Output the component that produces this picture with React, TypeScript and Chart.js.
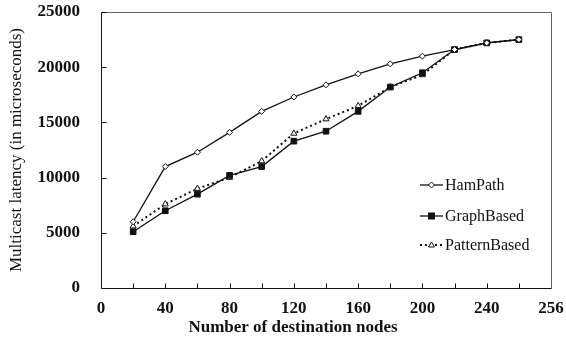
import React, { useEffect, useRef } from "react";
import { Chart, registerables } from "chart.js";

Chart.register(...registerables);

const nodes = [20, 40, 60, 80, 100, 120, 140, 160, 180, 200, 220, 240, 260];
const hamPath = [6000, 11000, 12300, 14100, 16000, 17300, 18400, 19400, 20300, 21000, 21600, 22200, 22500];
const graphBased = [5100, 7000, 8500, 10200, 11000, 13300, 14200, 16000, 18200, 19500, 21600, 22200, 22500];
const patternBased = [5600, 7600, 9000, 10000, 11500, 14000, 15300, 16500, 18200, 19300, 21600, 22200, 22500];
const xTickLabels: Record<number, string> = { 0: "0", 40: "40", 80: "80", 120: "120", 160: "160", 200: "200", 240: "240", 280: "256" };
const yTicks = [0, 5000, 10000, 15000, 20000, 25000];
const xTitle = "Number of destination nodes";
const yTitle = "Multicast latency (in microseconds)";

const SERIF = "'Liberation Serif', 'DejaVu Serif', serif";

const axesPlugin = {
  id: "axesPlugin",
  afterDraw(chart: any) {
    const { ctx, chartArea } = chart;
    const xs = chart.scales.x;
    const ys = chart.scales.y;
    const L = Math.round(chartArea.left) + 0.5;
    const R = Math.round(chartArea.right) + 0.5;
    const T = Math.round(chartArea.top) + 0.5;
    const B = Math.round(chartArea.bottom) + 0.5;
    ctx.save();
    // top and right border (gray)
    ctx.strokeStyle = "#666";
    ctx.lineWidth = 1;
    ctx.beginPath();
    ctx.moveTo(L, T);
    ctx.lineTo(R, T);
    ctx.lineTo(R, B);
    ctx.stroke();
    ctx.strokeStyle = "#111";
    ctx.beginPath();
    ctx.moveTo(L, T);
    ctx.lineTo(L, B);
    ctx.lineTo(R, B);
    // x ticks (inside)
    for (let v = 20; v < 280; v += 20) {
      const px = Math.round(xs.getPixelForValue(v)) + 0.5;
      ctx.moveTo(px, B);
      ctx.lineTo(px, B - 5);
    }
    // y ticks (inside)
    for (const v of yTicks) {
      const py = Math.round(ys.getPixelForValue(v)) + 0.5;
      ctx.moveTo(L, py);
      ctx.lineTo(L + 5, py);
    }
    ctx.stroke();

    // x axis title
    ctx.fillStyle = "#111";
    ctx.font = `bold 17px ${SERIF}`;
    ctx.textAlign = "center";
    ctx.textBaseline = "middle";
    ctx.fillText(xTitle, 293, 328);

    // legend
    const items = [
      { label: "HamPath", style: "diamond", dash: [] as number[], y: 185 },
      { label: "GraphBased", style: "square", dash: [] as number[], y: 216 },
      { label: "PatternBased", style: "triangle", dash: [2, 3], y: 245 },
    ];
    const x0 = 420;
    const x1 = 443;
    ctx.font = `16px ${SERIF}`;
    ctx.textBaseline = "middle";
    ctx.textAlign = "left";
    ctx.strokeStyle = "#111";
    for (const it of items) {
      ctx.beginPath();
      ctx.setLineDash(it.dash);
      ctx.lineWidth = it.dash.length ? 2 : 1.3;
      ctx.moveTo(x0, it.y);
      ctx.lineTo(x1, it.y);
      ctx.stroke();
      ctx.setLineDash([]);
      const cx = (x0 + x1) / 2;
      ctx.lineWidth = 1;
      if (it.style === "diamond") {
        ctx.beginPath();
        ctx.moveTo(cx, it.y - 3);
        ctx.lineTo(cx + 3, it.y);
        ctx.lineTo(cx, it.y + 3);
        ctx.lineTo(cx - 3, it.y);
        ctx.closePath();
        ctx.fillStyle = "#fff";
        ctx.fill();
        ctx.stroke();
      } else if (it.style === "square") {
        ctx.fillStyle = "#111";
        ctx.fillRect(cx - 3.5, it.y - 3.5, 7, 7);
      } else {
        ctx.beginPath();
        ctx.moveTo(cx, it.y - 3);
        ctx.lineTo(cx + 3, it.y + 2);
        ctx.lineTo(cx - 3, it.y + 2);
        ctx.closePath();
        ctx.fillStyle = "#fff";
        ctx.fill();
        ctx.stroke();
      }
      ctx.fillStyle = "#111";
      ctx.fillText(it.label, x1 + 2, it.y + 1);
    }
    ctx.restore();
  },
};

export default function App() {
  const ref = useRef<HTMLCanvasElement | null>(null);
  useEffect(() => {
    const canvas = ref.current;
    if (!canvas) return;
    const mk = (vals: number[]) => vals.map((v, i) => ({ x: nodes[i], y: v }));
    const chart = new Chart(canvas, {
      type: "line",
      data: {
        datasets: [
          {
            label: "HamPath",
            data: mk(hamPath),
            borderColor: "#111",
            borderWidth: 1.3,
            pointStyle: "rectRot",
            pointRadius: 3,
            pointBackgroundColor: "#fff",
            pointBorderColor: "#111",
            pointBorderWidth: 1,
            tension: 0,
          },
          {
            label: "GraphBased",
            data: mk(graphBased),
            borderColor: "#111",
            borderWidth: 1.3,
            pointStyle: "rect",
            pointRadius: 4,
            pointBackgroundColor: "#111",
            pointBorderColor: "#111",
            pointBorderWidth: 1,
            tension: 0,
          },
          {
            label: "PatternBased",
            data: mk(patternBased),
            borderColor: "#111",
            borderWidth: 2,
            borderDash: [2, 3],
            pointStyle: "triangle",
            pointRadius: 3.5,
            pointBackgroundColor: "#fff",
            pointBorderColor: "#111",
            pointBorderWidth: 1,
            tension: 0,
          },
        ],
      },
      options: {
        responsive: false,
        animation: false,
        layout: { padding: { top: 12, right: 15, left: 0, bottom: 0 } },
        plugins: { legend: { display: false }, tooltip: { enabled: false } },
        scales: {
          x: {
            type: "linear",
            min: 0,
            max: 280,
            grid: { display: false },
            border: { display: false },
            ticks: {
              stepSize: 20,
              autoSkip: false,
              maxRotation: 0,
              padding: 2,
              color: "#111",
              font: { family: SERIF, size: 17, weight: "bold" },
              callback: (v: any) => xTickLabels[Number(v)] ?? "",
            },
            title: { display: false },
            afterFit: (s: any) => {
              s.height = 58;
              s.paddingLeft = 0;
              s.paddingRight = 0;
            },
          },
          y: {
            min: 0,
            max: 25000,
            grid: { display: false },
            border: { display: false },
            ticks: {
              stepSize: 5000,
              padding: 13,
              color: "#111",
              font: { family: SERIF, size: 17, weight: "bold" },
              callback: (v: any) => String(v),
            },
            title: {
              display: true,
              text: yTitle,
              color: "#111",
              font: { family: SERIF, size: 17 },
              padding: { top: 6, bottom: 0 },
            },
            afterFit: (s: any) => {
              s.width = 101;
              s.paddingTop = 0;
              s.paddingBottom = 0;
            },
          },
        },
      },
      plugins: [axesPlugin],
    });
    return () => chart.destroy();
  }, []);
  return (
    <div style={{ position: "fixed", left: 0, top: 0, width: 566, height: 346, background: "#fff" }}>
      <canvas ref={ref} width={566} height={346} />
    </div>
  );
}
